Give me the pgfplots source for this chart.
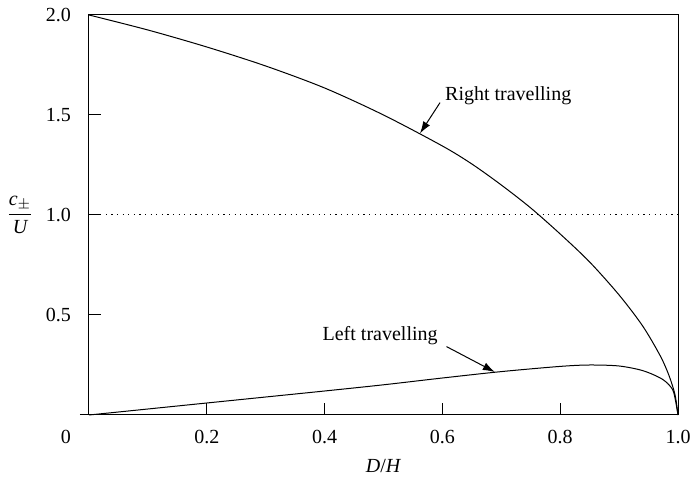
\documentclass[border=0pt]{standalone}
\usepackage{fontspec}
\setmainfont{Liberation Serif}
\usepackage{pgfplots}
\pgfplotsset{compat=1.18}
\usetikzlibrary{arrows.meta}
\begin{document}
\begin{tikzpicture}
\begin{axis}[
  at={(0,0)}, anchor=south west,
  scale only axis, width=294.5pt, height=200pt,
  xmin=0, xmax=1, ymin=0, ymax=2,
  xtick={0.2,0.4,0.6,0.8,1.0}, xticklabels={0.2,0.4,0.6,0.8,1.0},
  ytick={0.5,1.0,1.5,2.0}, yticklabels={0.5,1.0,1.5,2.0},
  tick align=inside, major tick length=6pt,
  xtick pos=bottom, ytick pos=left,
  tick style={black, line width=0.5pt},
  axis line style={black, line width=0.5pt},
  xticklabel style={yshift=-4pt},
  yticklabel style={xshift=-5.5pt},
  xlabel={\textit{D}/\textit{H}},
  xlabel style={at={(axis description cs:0.5,0)}, anchor=north, yshift=-18.7pt},
  ylabel={$\displaystyle\frac{\textit{c}_{\pm}}{\textit{U}}$},
  ylabel style={at={(axis description cs:0,0.5)}, anchor=center, rotate=-90, xshift=-34.5pt},
  extra y ticks={0}, extra y tick labels={},
  extra y tick style={tick align=outside, major tick length=4.5pt},
  clip=false,
]
% reference line c/U = 1
\addplot[black, line width=0.5pt, dash pattern=on 0.6pt off 2.2pt] coordinates {(0,1) (1,1)};
% right travelling
\addplot[black, line width=0.5pt, smooth] coordinates {
  (0,2.0) (0.1,1.925) (0.2,1.84) (0.3,1.745) (0.4,1.635) (0.5,1.50)
  (0.6,1.345) (0.65,1.255) (0.7,1.15) (0.75,1.035) (0.8,0.905)
  (0.85,0.765) (0.9,0.60) (0.94,0.445) (0.97,0.295) (0.985,0.195) (0.995,0.10) (1,0)
};
% left travelling
\addplot[black, line width=0.5pt, smooth] coordinates {
  (0,0) (0.1,0.03) (0.2,0.06) (0.3,0.09) (0.4,0.12) (0.5,0.151) (0.6,0.185)
  (0.7,0.217) (0.8,0.243) (0.85,0.25) (0.9,0.245) (0.94,0.222) (0.97,0.185)
  (0.985,0.15) (0.993,0.11) (1,0)
};
\node[anchor=base west, inner sep=0pt] at (axis cs:0.604,1.57) {Right travelling};
\node[anchor=base west, inner sep=0pt] at (axis cs:0.396,0.3725) {Left travelling};
\draw[-{Latex[length=6pt,width=4pt]}, line width=0.5pt] (axis cs:0.596,1.562) -- (axis cs:0.562,1.408);
\draw[-{Latex[length=6pt,width=4pt]}, line width=0.5pt] (axis cs:0.607,0.342) -- (axis cs:0.689,0.215);
\node[anchor=north, yshift=-4pt, xshift=-11.5pt] at (axis cs:0,0) {0};
\end{axis}
\pgfresetboundingbox
\path[use as bounding box] (-44.5pt,-32.5pt) rectangle (302.5pt,207.5pt);
\end{tikzpicture}
\end{document}
